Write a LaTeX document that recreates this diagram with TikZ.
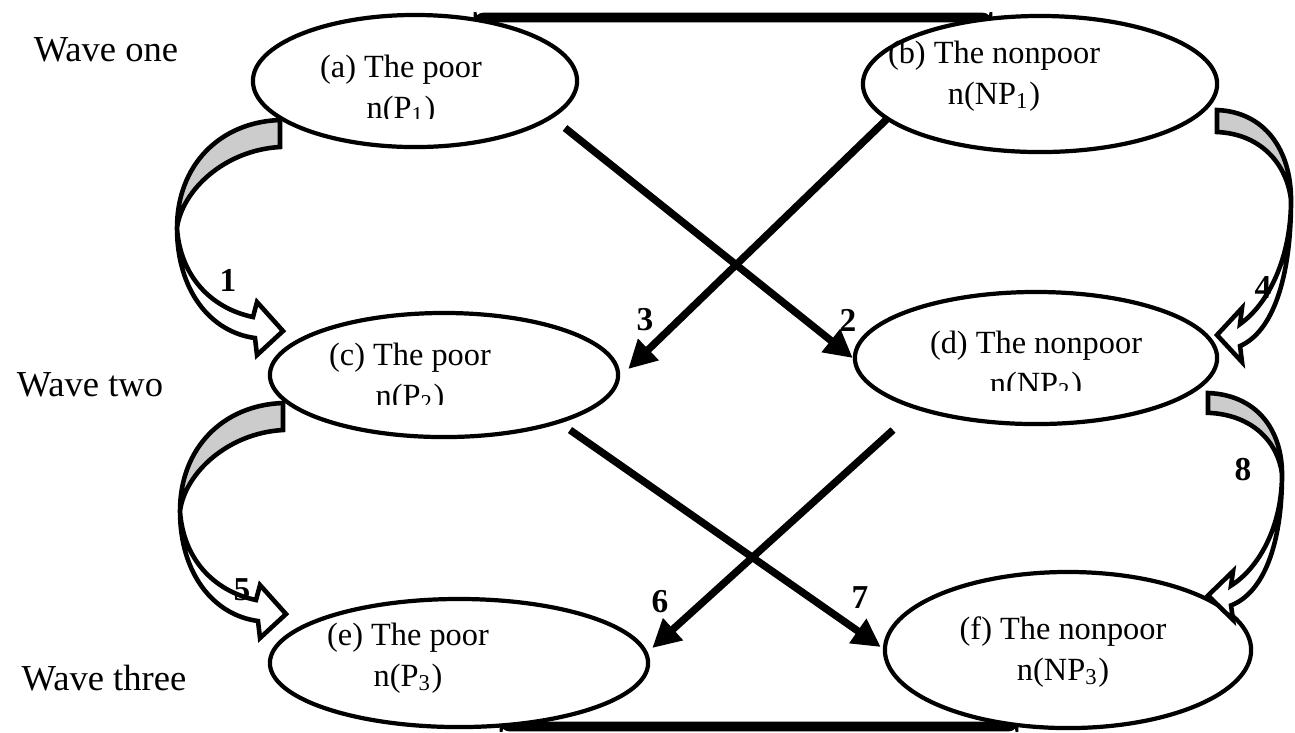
\documentclass[tikz,border=0pt]{standalone}
\usepackage{fontspec}
\setmainfont{Liberation Serif}
\usetikzlibrary{shapes.geometric,arrows.meta,positioning,calc}

\tikzset{
  oval/.style={ellipse, draw, line width=1.2pt, fill=white, inner sep=0pt},
  wave/.style={font=\fontsize{10.4}{12}\selectfont},
  txt/.style={font=\fontsize{9.2}{11.5}\selectfont, align=center},
  num/.style={font=\fontsize{9.5}{11}\selectfont\bfseries},
  flow/.style={line width=2.1pt, -{Triangle[length=8pt,width=8pt]}},
  band/.style={line width=1.3pt, fill=gray!40},
  shaft/.style={line width=1.3pt, fill=white},
  bar/.style={draw, line width=0.8pt, fill=black, rounded corners=2.5pt},
  leftturn/.pic={
    \draw[band] (0,0) .. controls (-60,2) and (-103,45) .. (-103,108)
      .. controls (-98,70) and (-55,30) .. (0,27) -- cycle;
    \draw[shaft] (-103,108) .. controls (-103,170) and (-70,212) .. (-25,218)
      -- (-23,235) -- (3,211) -- (-23,182) -- (-27,197)
      .. controls (-70,188) and (-100,155) .. (-103,108) -- cycle;
  },
  rightturn/.pic={
    \draw[band] (0,0) .. controls (48,2) and (74,40) .. (74,90)
      .. controls (70,55) and (45,24) .. (0,22) -- cycle;
    \draw[shaft] (74,90) .. controls (74,170) and (55,222) .. (23,236)
      -- (25,252) -- (0,225) -- (25,198) -- (23,214)
      .. controls (50,195) and (74,150) .. (74,90) -- cycle;
  }
}

\begin{document}
\begin{tikzpicture}[x=0.01cm, y=-0.01cm]
\useasboundingbox (0,0) rectangle (1295,732);

% Bars
\path[bar] (475,14) rectangle (991,21);
\path[bar] (501,723) rectangle (1017,730);

% Waves
\node[wave] (w1) at (106,50) {Wave one};
\node[wave] (w2) at (90,385) {Wave two};
\node[wave] (w3) at (104,678) {Wave three};

% Ellipses
\node[oval, minimum width=3.24cm, minimum height=1.32cm] (a) at (415,81) {};
\node[oval, minimum width=3.54cm, minimum height=1.36cm] (b) at (1040,84) {};
\node[oval, minimum width=3.48cm, minimum height=1.24cm] (c) at (444,375) {};
\node[oval, minimum width=3.62cm, minimum height=1.32cm] (d) at (1036,358) {};
\node[oval, minimum width=3.78cm, minimum height=1.28cm] (e) at (459,663) {};
\node[oval, minimum width=3.66cm, minimum height=1.56cm] (f) at (1068,650) {};

% Texts (some cut at the bottom)
\begin{scope}
  \clip (300,40) rectangle (520,118);
  \node[txt] (at) at (401,90) {(a) The poor\\n(P\textsubscript{1})};
\end{scope}
\node[txt] (bt) at (994,76) {(b) The nonpoor\\n(NP\textsubscript{1})};
\begin{scope}
  \clip (310,330) rectangle (520,404);
  \node[txt] (ct) at (410,378) {(c) The poor\\n(P\textsubscript{2})};
\end{scope}
\begin{scope}
  \clip (900,320) rectangle (1170,390);
  \node[txt] (dt) at (1036,366) {(d) The nonpoor\\n(NP\textsubscript{2})};
\end{scope}
\node[txt] (et) at (408,658) {(e) The poor\\n(P\textsubscript{3})};
\node[txt] (ft) at (1063,652) {(f) The nonpoor\\n(NP\textsubscript{3})};

% Turning arrows
\pic at (280,120) {leftturn};
\pic at (283,403) {leftturn};
\pic at (1217,110) {rightturn};
\pic[yscale=0.9] at (1208,393) {rightturn};

% Crossing arrows
\draw[flow] ($(a)+(150,47)$) -- (d.west);
\draw[flow] ($(b)+(-152,34)$) -- ($(c.east)+(8,-6)$);
\draw[flow] ($(d)+(-143,72)$) -- ($(e.east)+(2,-15)$);
\draw[flow] ($(c)+(126,55)$) -- ($(f.west)+(-2,-3)$);

% Numbers
\node[num] (n1) at (228,280) {1};
\node[num] (n2) at (848,320) {2};
\node[num] (n3) at (645,320) {3};
\node[num] (n4) at (1263,287) {4};
\node[num] (n5) at (242,590) {5};
\node[num] (n6) at (660,602) {6};
\node[num] (n7) at (860,598) {7};
\node[num] (n8) at (1243,470) {8};

\end{tikzpicture}
\end{document}
